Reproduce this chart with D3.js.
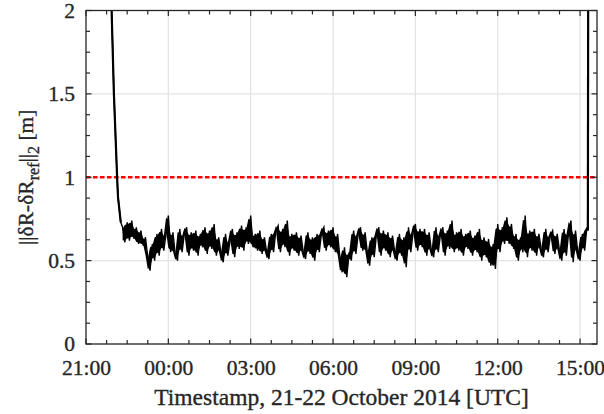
<!DOCTYPE html>
<html>
<head>
<meta charset="utf-8">
<style>
body { margin: 0; background: #fff; }
svg { display: block; }
svg text { font-family: "Liberation Serif", "Times New Roman", serif; }
</style>
</head>
<body>
<svg class="chart"></svg>

<script src="https://d3js.org/d3.v7.min.js"></script>
<script>
// all times are minutes after 21:00 UTC, 21 Oct 2014

// initial convergence, falls in from above the plot
var descentMins = [52, 56, 61, 68, 70, 76];
var descentVals = [2.4, 2.0, 1.5, 1.0, 0.88, 0.73];

// steady part, one value every 5 min starting at 22:20
var steadyStart = 80, steadyStep = 5;
var steadyVals = [
  0.70, 0.61, 0.73, 0.62,  0.74, 0.63, 0.70, 0.60,  0.68, 0.59, 0.64, 0.52,
  0.44, 0.60, 0.50, 0.66,  0.53, 0.69, 0.56, 0.66,  0.77, 0.55, 0.67, 0.54,
  0.50, 0.69, 0.55, 0.66,  0.70, 0.53, 0.67, 0.56,  0.68, 0.53, 0.66, 0.58,
  0.70, 0.54, 0.68, 0.57,  0.72, 0.53, 0.64, 0.55,  0.49, 0.66, 0.53, 0.62,
  0.69, 0.52, 0.67, 0.57,  0.71, 0.56, 0.70, 0.60,  0.77, 0.58, 0.66, 0.56,
  0.68, 0.54, 0.64, 0.55,  0.51, 0.66, 0.55, 0.68,  0.71, 0.55, 0.69, 0.58,
  0.74, 0.53, 0.66, 0.56,  0.67, 0.53, 0.65, 0.55,  0.51, 0.67, 0.54, 0.64,
  0.50, 0.66, 0.55, 0.67,  0.70, 0.56, 0.68, 0.58,  0.70, 0.55, 0.66, 0.52,
  0.43, 0.58, 0.40, 0.55,  0.50, 0.68, 0.54, 0.66,  0.70, 0.56, 0.67, 0.55,
  0.47, 0.64, 0.52, 0.66,  0.70, 0.53, 0.68, 0.56,  0.67, 0.52, 0.65, 0.55,
  0.50, 0.66, 0.53, 0.64,  0.46, 0.70, 0.55, 0.67,  0.72, 0.56, 0.69, 0.58,
  0.69, 0.53, 0.67, 0.56,  0.52, 0.70, 0.55, 0.66,  0.70, 0.53, 0.68, 0.57,
  0.74, 0.55, 0.67, 0.56,  0.69, 0.53, 0.66, 0.57,  0.68, 0.53, 0.65, 0.55,
  0.69, 0.50, 0.64, 0.52,  0.63, 0.47, 0.60, 0.45,  0.72, 0.55, 0.70, 0.60,
  0.76, 0.60, 0.72, 0.57,  0.66, 0.50, 0.64, 0.55,  0.77, 0.52, 0.68, 0.56,
  0.69, 0.53, 0.66, 0.57,  0.52, 0.69, 0.55, 0.65,  0.68, 0.54, 0.66, 0.56,
  0.50, 0.69, 0.53, 0.67,  0.74, 0.49, 0.68, 0.55,  0.50, 0.66, 0.56, 0.70
];

// jump at the end of the pass
var tailMins = [1097, 1098];
var tailVals = [0.68, 2.6];

var threshold = 1;
var xTickLabels = ["21:00", "00:00", "03:00", "06:00", "09:00", "12:00", "15:00"];
var yTickValues = [0, 0.5, 1, 1.5, 2];

var width = 604, height = 414;
var margin = {top: 10.5, right: 7, bottom: 70, left: 86};
var start = new Date(Date.UTC(2014, 9, 21, 21, 0));
var end = new Date(start.getTime() + 1117 * 60000);
var toDate = m => new Date(start.getTime() + m * 60000);

var points = [];
descentMins.forEach((m, i) => points.push({t: toDate(m), v: descentVals[i]}));
steadyVals.forEach((v, i) => points.push({t: toDate(steadyStart + i * steadyStep), v: v}));
tailMins.forEach((m, i) => points.push({t: toDate(m), v: tailVals[i]}));

// the real noise is much denser than 5 min: fill the inner part of each swing
// so the trace reads as a solid band, the line on top keeps the thin spikes
var band = steadyVals.map((v, i) => {
  var w = steadyVals.slice(i, i + 2);
  var lo = d3.min(w), hi = d3.max(w), pad = 0.12 * (hi - lo);
  return {t: toDate(steadyStart + i * steadyStep), lo: lo + pad, hi: hi - pad};
});

var xTicks = xTickLabels.map(s => {
  var h = +s.slice(0, 2), mm = +s.slice(3);
  return toDate(((h - 21 + 24) % 24) * 60 + mm);
});
var xMinor = d3.range(0, 1117, 45).map(toDate);
var yMinor = d3.range(0, 2.001, 0.125);

var x = d3.scaleTime()
    .domain([start, end])
    .range([margin.left, width - margin.right]);

var y = d3.scaleLinear()
    .domain([0, 2])
    .range([height - margin.bottom, margin.top]);

var x0 = margin.left, x1 = width - margin.right;
var y0 = y(0), y1 = y(2);
var ink = "#262626";

var svg = d3.select("svg")
    .attr("width", width)
    .attr("height", height)
    .attr("viewBox", [0, 0, width, height]);

svg.append("defs").append("clipPath").attr("id", "plot")
  .append("rect")
    .attr("x", x0).attr("y", y1)
    .attr("width", x1 - x0).attr("height", y0 - y1);

// grid
svg.append("g")
    .attr("stroke", "#e3e3e3")
    .attr("stroke-width", 1.3)
  .call(g => g.selectAll(".gx")
    .data(xTicks.slice(1))
    .join("line")
      .attr("x1", d => x(d)).attr("x2", d => x(d))
      .attr("y1", y0).attr("y2", y1))
  .call(g => g.selectAll(".gy")
    .data(yTickValues.slice(1, -1))
    .join("line")
      .attr("x1", x0).attr("x2", x1)
      .attr("y1", d => y(d)).attr("y2", d => y(d)));

// threshold
svg.append("line")
    .attr("x1", x0).attr("x2", x1)
    .attr("y1", y(threshold)).attr("y2", y(threshold))
    .attr("stroke", "#ff0000")
    .attr("stroke-width", 2.5)
    .attr("stroke-dasharray", "4.5,2.5");

// data
var plot = svg.append("g").attr("clip-path", "url(#plot)");
plot.append("path")
    .datum(band)
    .attr("fill", "#000")
    .attr("d", d3.area().x(d => x(d.t)).y0(d => y(d.lo)).y1(d => y(d.hi)));
plot.append("path")
    .datum(points)
    .attr("fill", "none")
    .attr("stroke", "#000")
    .attr("stroke-width", 1.4)
    .attr("stroke-linejoin", "miter")
    .attr("d", d3.line().x(d => x(d.t)).y(d => y(d.v)));
// entry and exit legs are a single clean trace, a bit heavier
[descentMins.map((m, i) => ({t: toDate(m), v: descentVals[i]})),
 tailMins.map((m, i) => ({t: toDate(m), v: tailVals[i]}))].forEach(seg => {
  plot.append("path")
      .datum(seg)
      .attr("fill", "none")
      .attr("stroke", "#000")
      .attr("stroke-width", 2.2)
      .attr("d", d3.line().x(d => x(d.t)).y(d => y(d.v)));
});

// ticks on all four sides, pointing inwards
var ticks = svg.append("g").attr("stroke", ink).attr("stroke-width", 1.2);
[[y0, -1], [y1, 1]].forEach(([yy, dir]) => {
  ticks.selectAll(null)
    .data(xMinor)
    .join("line")
      .attr("x1", d => x(d)).attr("x2", d => x(d))
      .attr("y1", yy).attr("y2", d => yy + dir * (xTicks.some(t => +t === +d) ? 5.5 : 4));
});
[[x0, 1], [x1, -1]].forEach(([xx, dir]) => {
  ticks.selectAll(null)
    .data(yMinor)
    .join("line")
      .attr("y1", d => y(d)).attr("y2", d => y(d))
      .attr("x1", xx).attr("x2", d => xx + dir * (d % 0.5 === 0 ? 5.5 : 4));
});

var textStyle = sel => sel
    .attr("fill", ink)
    .attr("stroke", ink)
    .attr("stroke-width", 0.35);

// tick labels
svg.append("g")
    .attr("transform", `translate(0,${y0})`)
    .call(d3.axisBottom(x).tickValues(xTicks).tickSize(0).tickPadding(16)
      .tickFormat((d, i) => xTickLabels[i]))
    .attr("font-family", null)
    .attr("font-size", 21.5)
    .call(g => g.select(".domain").remove())
    .call(g => g.selectAll("text").call(textStyle));

svg.append("g")
    .attr("transform", `translate(${x0},0)`)
    .call(d3.axisLeft(y).tickValues(yTickValues).tickSize(0).tickPadding(11)
      .tickFormat(d3.format("")))
    .attr("font-family", null)
    .attr("font-size", 21.5)
    .call(g => g.select(".domain").remove())
    .call(g => g.selectAll("text").call(textStyle));

// frame
svg.append("rect")
    .attr("x", x0).attr("y", y1)
    .attr("width", x1 - x0).attr("height", y0 - y1)
    .attr("fill", "none")
    .attr("stroke", ink)
    .attr("stroke-width", 1.3);

// axis titles
svg.append("text")
    .attr("x", (x0 + x1) / 2)
    .attr("y", 405)
    .attr("text-anchor", "middle")
    .attr("font-size", 23.5)
    .call(textStyle)
    .text("Timestamp, 21-22 October 2014 [UTC]");

var yl = svg.append("text")
    .attr("transform", `translate(33,${(y0 + y1) / 2}) rotate(-90)`)
    .attr("text-anchor", "middle")
    .attr("font-size", 21.5)
    .call(textStyle);
yl.append("tspan").text("||δR-δR");
yl.append("tspan").attr("dy", 6).attr("font-size", 16).text("ref");
yl.append("tspan").attr("dy", -6).text("||");
yl.append("tspan").attr("dy", 6).attr("font-size", 16).text("2");
yl.append("tspan").attr("dy", -6).text(" [m]");
</script>
</body>
</html>
